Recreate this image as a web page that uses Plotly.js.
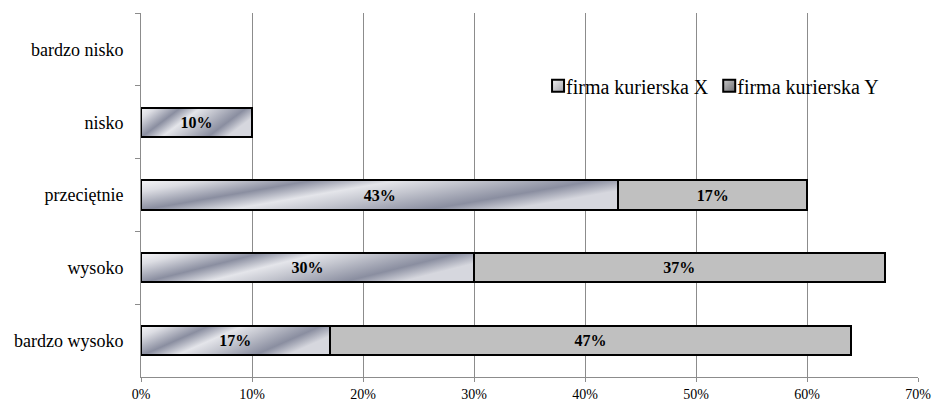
<!DOCTYPE html>
<html>
<head>
<meta charset="utf-8">
<script src="https://cdn.plot.ly/plotly-3.0.1.min.js"></script>
<style>
  html, body { margin: 0; padding: 0; background: #fff; }
  #chart { width: 932px; height: 404px; }
</style>
</head>
<body>
<div id="chart"></div>
<script>
// Ocena firm kurierskich – odsetek odpowiedzi
const categories = ['bardzo nisko', 'nisko', 'przeciętnie', 'wysoko', 'bardzo wysoko'];
const firmaX = [null, 10, 43, 30, 17];
const firmaY = [null, null, 17, 37, 47];
const seriesNames = ['firma kurierska X', 'firma kurierska Y'];
const xTicks = [0, 10, 20, 30, 40, 50, 60, 70];

const serif = 'Liberation Serif, Times New Roman, serif';
const labelOf = v => (v == null ? '' : '<b>' + v + '%</b>');

const traces = [
  {
    type: 'bar', orientation: 'h', name: seriesNames[0],
    y: categories, x: firmaX,
    text: firmaX.map(labelOf), textposition: 'inside', insidetextanchor: 'middle',
    textfont: { family: serif, size: 16, color: '#000' },
    marker: { color: '#b8bac4', line: { color: '#000', width: 2 } },
    hoverinfo: 'none'
  },
  {
    type: 'bar', orientation: 'h', name: seriesNames[1],
    y: categories, x: firmaY,
    text: firmaY.map(labelOf), textposition: 'inside', insidetextanchor: 'middle',
    textfont: { family: serif, size: 16, color: '#000' },
    marker: { color: '#c0c0c0', line: { color: '#000', width: 2 } },
    hoverinfo: 'none'
  }
];

const layout = {
  width: 932, height: 404,
  margin: { l: 141, r: 14, t: 13, b: 27 },
  paper_bgcolor: '#fff', plot_bgcolor: '#fff',
  barmode: 'stack', bargap: 0.6,
  showlegend: true,
  legend: {
    orientation: 'h', x: 0.511, y: 0.80, xanchor: 'left', yanchor: 'middle',
    font: { family: serif, size: 20, color: '#000' },
    itemwidth: 30, bgcolor: 'rgba(0,0,0,0)', traceorder: 'normal'
  },
  xaxis: {
    range: [0, 70], tickvals: xTicks, ticktext: xTicks.map(v => v + '%'),
    showgrid: true, gridcolor: '#8c8c8c', gridwidth: 1,
    showline: true, linecolor: '#8c8c8c', linewidth: 1,
    ticks: 'outside', ticklen: 4, tickcolor: '#8c8c8c',
    zeroline: false,
    tickfont: { family: serif, size: 14, color: '#000' }
  },
  yaxis: {
    type: 'category', categoryarray: categories, autorange: 'reversed',
    showline: true, linecolor: '#8c8c8c', linewidth: 1,
    ticks: 'outside', ticklen: 5, tickcolor: '#8c8c8c', tickson: 'boundaries',
    showgrid: false, ticklabelstandoff: 13,
    tickfont: { family: serif, size: 18, color: '#000' }
  }
};

function parseTranslate(el) {
  const m = /translate\(\s*([-\d.]+)[ ,]+([-\d.]+)\s*\)/.exec(el.getAttribute('transform') || '');
  return m ? [parseFloat(m[1]), parseFloat(m[2])] : [0, 0];
}

function tightenLegend(gd) {
  // pull each label closer to its swatch and keep a short gap between entries
  const items = gd.querySelectorAll('.legend .traces');
  if (items.length < 2) return;
  const shift = 12, gap = 15;
  items.forEach(g => {
    const t = g.querySelector('.legendtext');
    if (t) t.setAttribute('x', parseFloat(t.getAttribute('x')) - shift);
  });
  const [x0] = parseTranslate(items[0]);
  const t0 = items[0].querySelector('.legendtext');
  const end0 = parseFloat(t0.getAttribute('x')) + t0.getComputedTextLength();
  const icon1 = items[1].querySelector('.legendpoints').getBBox();
  const [, y1] = parseTranslate(items[1]);
  items[1].setAttribute('transform', 'translate(' + (x0 + end0 + gap - icon1.x) + ',' + y1 + ')');
}

function addGradients(gd) {
  const svg = gd.querySelector('svg.main-svg');
  const ns = 'http://www.w3.org/2000/svg';
  let defs = svg.querySelector('defs');
  if (!defs) { defs = document.createElementNS(ns, 'defs'); svg.insertBefore(defs, svg.firstChild); }

  function makeGrad(id, stops, x2, y2) {
    const g = document.createElementNS(ns, 'linearGradient');
    g.setAttribute('id', id);
    g.setAttribute('x1', '0'); g.setAttribute('y1', '0');
    g.setAttribute('x2', x2); g.setAttribute('y2', y2);
    stops.forEach(([o, c]) => {
      const s = document.createElementNS(ns, 'stop');
      s.setAttribute('offset', o); s.setAttribute('stop-color', c);
      g.appendChild(s);
    });
    defs.appendChild(g);
  }
  // metaliczne wypełnienie słupków firmy X
  makeGrad('silverX', [
    [0, '#f6f6f8'], [0.12, '#dcdde3'], [0.32, '#8a8ea0'], [0.48, '#e4e5ea'],
    [0.62, '#c4c6cf'], [0.85, '#8a8ea0'], [1, '#d6d7de']
  ], '1', '0.35');
  makeGrad('legendX', [[0, '#f2f2f2'], [1, '#a0a0a8']], '1', '1');
  makeGrad('legendY', [[0, '#c8c8c8'], [1, '#6c6c70']], '1', '1');

  const traceGroups = gd.querySelectorAll('.barlayer .trace');
  if (traceGroups[0]) traceGroups[0].querySelectorAll('path').forEach(p => { p.style.fill = 'url(#silverX)'; });

  const legendPts = gd.querySelectorAll('.legend .traces .legendpoints path');
  if (legendPts[0]) legendPts[0].style.fill = 'url(#legendX)';
  if (legendPts[1]) legendPts[1].style.fill = 'url(#legendY)';

  tightenLegend(gd);
}

Plotly.newPlot('chart', traces, layout, { staticPlot: true, displayModeBar: false })
  .then(addGradients);
</script>
</body>
</html>
